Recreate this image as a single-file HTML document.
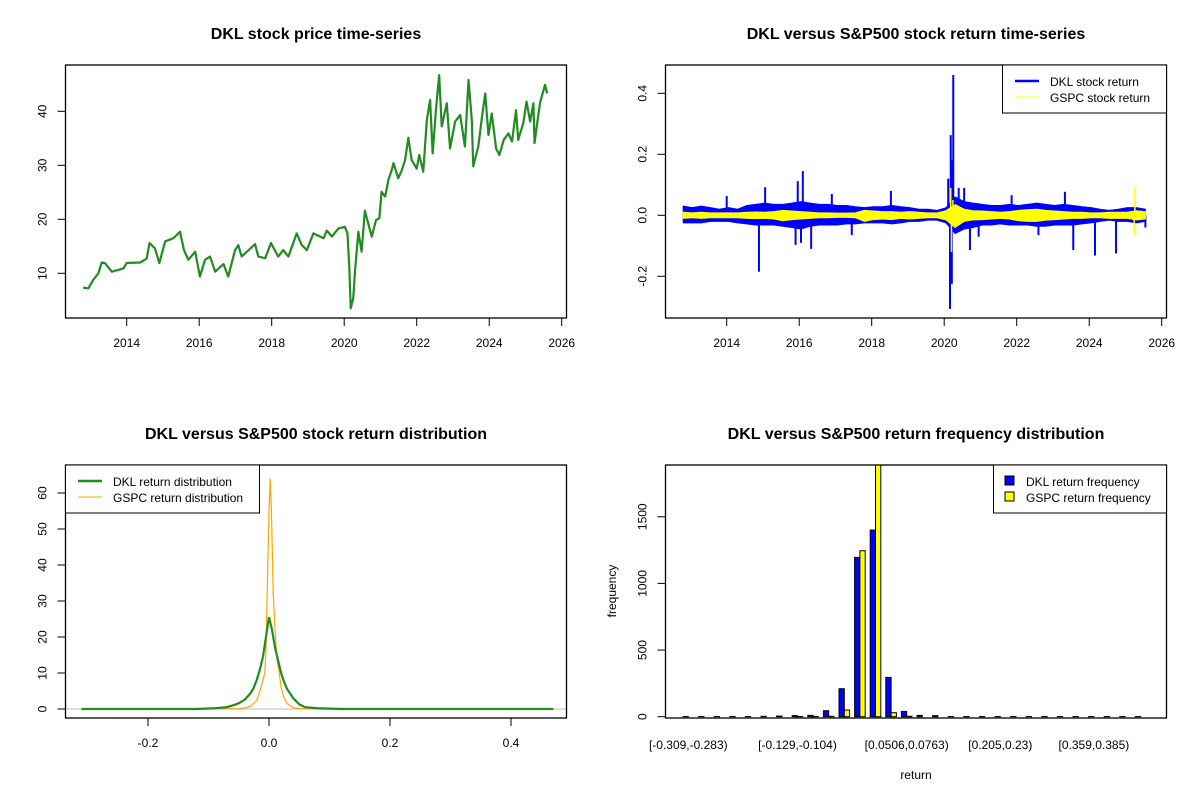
<!DOCTYPE html>
<html><head><meta charset="utf-8"><style>
html,body{margin:0;padding:0;background:#fff;}
svg{display:block;font-family:"Liberation Sans",Arial,sans-serif;}
</style></head><body>
<svg id="c" width="1200" height="800" viewBox="0 0 1200 800"></svg>
<script>
// ---- Panel 1 data: DKL price (year, price)
const priceYears=[2012.80,2012.94,2013.08,2013.22,2013.31,2013.40,2013.59,2013.91,2014.0,2014.37,2014.55,2014.63,2014.78,2014.90,2015.06,2015.29,2015.47,2015.58,2015.70,2015.89,2016.02,2016.16,2016.30,2016.44,2016.67,2016.80,2016.99,2017.08,2017.17,2017.54,2017.63,2017.82,2017.98,2018.18,2018.32,2018.46,2018.69,2018.83,2018.97,2019.15,2019.43,2019.52,2019.66,2019.84,2020.02,2020.09,2020.14,2020.18,2020.25,2020.30,2020.39,2020.48,2020.57,2020.66,2020.76,2020.88,2020.97,2021.03,2021.13,2021.22,2021.31,2021.36,2021.49,2021.59,2021.68,2021.77,2021.86,2022.0,2022.07,2022.18,2022.28,2022.37,2022.44,2022.53,2022.62,2022.69,2022.83,2022.92,2023.06,2023.20,2023.33,2023.43,2023.52,2023.56,2023.70,2023.79,2023.89,2023.98,2024.07,2024.19,2024.28,2024.40,2024.53,2024.63,2024.74,2024.80,2024.94,2025.03,2025.13,2025.22,2025.25,2025.40,2025.54,2025.60];
const priceValues=[7.35,7.2,8.8,10.0,12.0,11.9,10.3,10.9,11.9,12.0,12.7,15.6,14.6,11.9,15.9,16.5,17.7,14.3,12.5,14.0,9.4,12.5,13.1,10.3,11.7,9.4,14.3,15.2,13.1,15.4,13.1,12.8,15.6,13.1,14.3,13.1,17.4,15.2,14.3,17.4,16.5,17.9,16.8,18.3,18.6,17.4,11.2,3.5,5.4,10.6,17.7,14.0,21.6,19.3,16.8,19.9,20.2,25.1,24.2,27.3,29.1,30.4,27.6,29.1,31.0,35.1,31.0,29.4,31.9,28.8,38.4,42.1,32.2,40.2,46.7,37.2,41.5,33.1,38.1,39.3,33.5,45.8,38.4,29.8,33.5,38.4,43.3,35.6,39.6,33.1,31.9,34.7,35.9,34.4,40.2,34.7,37.8,41.8,38.1,41.5,34.1,41.5,44.9,43.3];
const yearTicks=[2014,2016,2018,2020,2022,2024,2026];
const priceTicks=[10,20,30,40];
// ---- Panel 2 data: returns (band sampled each 0.25y from 2012.8, plus spikes)
const bandStart=2012.8, bandStep=0.25;
const dklHi=[.03,.025,.03,.025,.02,.025,.02,.032,.036,.04,.036,.036,.04,.045,.04,.036,.036,.032,.032,.028,.025,.028,.028,.032,.028,.025,.02,.02,.016,.025,.06,.045,.04,.036,.032,.032,.036,.032,.036,.04,.036,.032,.036,.032,.028,.025,.02,.016,.02,.025,.025,.02];
const dklLo=[-.025,-.025,-.025,-.02,-.02,-.02,-.025,-.028,-.032,-.032,-.032,-.036,-.04,-.045,-.036,-.032,-.032,-.032,-.028,-.028,-.025,-.025,-.025,-.028,-.025,-.02,-.02,-.016,-.016,-.025,-.06,-.045,-.04,-.032,-.032,-.028,-.032,-.032,-.032,-.036,-.036,-.032,-.032,-.032,-.028,-.025,-.02,-.016,-.02,-.02,-.025,-.02];
const gspcHi=[.01,.008,.01,.008,.008,.008,.008,.01,.011,.01,.012,.016,.014,.012,.01,.008,.008,.007,.007,.008,.016,.014,.012,.012,.01,.012,.01,.008,.008,.015,.035,.02,.015,.014,.012,.01,.012,.016,.018,.02,.016,.014,.012,.01,.01,.008,.008,.01,.01,.01,.015,.012];
const gspcLo=[-.01,-.008,-.01,-.008,-.008,-.008,-.008,-.01,-.011,-.01,-.012,-.018,-.014,-.012,-.01,-.008,-.008,-.007,-.007,-.008,-.02,-.014,-.012,-.014,-.01,-.012,-.01,-.008,-.008,-.015,-.04,-.02,-.015,-.014,-.012,-.01,-.012,-.018,-.02,-.02,-.016,-.014,-.012,-.01,-.01,-.008,-.008,-.01,-.01,-.01,-.015,-.012];
const dklSpikeT=[2014.0,2014.89,2015.06,2015.90,2015.96,2016.10,2016.05,2016.33,2016.90,2017.45,2018.53,2020.11,2020.18,2020.16,2020.25,2020.21,2020.23,2020.40,2020.71,2020.55,2020.95,2021.86,2022.60,2023.33,2023.56,2024.16,2024.74,2025.55];
const dklSpikeV=[0.063,-0.185,0.092,-0.097,0.112,0.145,-0.09,-0.11,0.07,-0.065,0.08,0.12,0.263,-0.307,0.46,-0.225,0.18,0.09,-0.114,0.09,-0.07,0.066,-0.065,0.077,-0.114,-0.132,-0.125,-0.04];
const gspcSpikeT=[2020.18,2020.20,2020.24,2025.26,2025.24];
const gspcSpikeV=[0.09,-0.12,0.05,0.094,-0.065];
const returnTicks=[-0.2,0.0,0.2,0.4];
// ---- Panel 3 data: densities
const dklDensX=[-0.31,-0.12,-0.09,-0.07,-0.06,-0.05,-0.04,-0.03,-0.025,-0.02,-0.015,-0.01,-0.005,0,0.005,0.01,0.015,0.02,0.025,0.03,0.035,0.04,0.05,0.06,0.08,0.1,0.12,0.47];
const dklDensY=[0,0,0.2,0.5,1.0,1.6,2.6,4.5,6.0,8.2,11.0,14.5,20,25.5,22,17,13.5,10,7.5,5.5,4.3,3.0,1.3,0.5,0.2,0.1,0,0];
const gspcDensX=[-0.13,-0.05,-0.04,-0.03,-0.02,-0.015,-0.01,-0.007,-0.005,-0.003,0,0.002,0.004,0.007,0.01,0.013,0.017,0.02,0.025,0.03,0.04,0.05,0.09];
const gspcDensY=[0,0.1,0.3,0.8,2.5,5,8,10,16,32,55,64,55,32,22,14,10,6,3,1.5,0.4,0.1,0];
const densXTicks=[-0.2,0.0,0.2,0.4];
const densYTicks=[0,10,20,30,40,50,60];
// ---- Panel 4 data: histogram counts (30 bins)
const dklFreq=[1,1,1,1,1,3,5,8,10,45,210,1195,1400,295,40,10,8,1,1,1,1,1,1,1,1,1,1,1,1,1];
const gspcFreq=[0,0,0,0,0,0,0,1,1,3,50,1245,2100,30,3,0,0,0,0,0,0,0,0,0,0,0,0,0,0,0];
const binLabels=["[-0.309,-0.283)","[-0.129,-0.104)","[0.0506,0.0763)","[0.205,0.23)","[0.359,0.385)"];
const binLabelIdx=[0,7,14,20,26];
const freqTicks=[0,500,1000,1500];

const svg=document.getElementById('c');
const NS='http://www.w3.org/2000/svg';
function mk(tag,attrs,parent,text){const e=document.createElementNS(NS,tag);for(const k in attrs)e.setAttribute(k,attrs[k]);if(text!==undefined)e.textContent=text;(parent||svg).appendChild(e);return e;}

function panel(name,L,T,R,B,title){
  const g=mk('g',{});
  
  
  const t=mk('text',{x:(L+R)/2,y:T-26,'text-anchor':'middle','font-size':'16','font-weight':'bold',fill:'#000'},g,title);
  
  
  return g;
}
function box(g,name,L,T,R,B){const r=mk('rect',{x:L,y:T,width:R-L,height:B-T,fill:'none',stroke:'#000','stroke-width':1.3},g);
  
  }
function xTicks(g,name,ticks,fx,B,fmt){const a=mk('g',{},g);
  
  
  ticks.forEach(v=>{const x=fx(v);mk('line',{x1:x,x2:x,y1:B,y2:B+8,stroke:'#000','stroke-width':1},a);
    mk('text',{x:x,y:B+29,'text-anchor':'middle','font-size':'12'},a,fmt(v));});
  return a;}
function yTicks(g,name,ticks,fy,L,fmt){const a=mk('g',{},g);
  
  
  ticks.forEach(v=>{const y=fy(v);mk('line',{x1:L-8,x2:L,y1:y,y2:y,stroke:'#000','stroke-width':1},a);
    mk('text',{x:L-19,y:y,'text-anchor':'middle','font-size':'12',transform:`rotate(-90 ${L-19} ${y})`},a,fmt(v));});
  return a;}

// ===== Panel 1
(function(){
  const L=65.5,T=65,R=566.5,B=318;
  const g=panel('price-panel',L,T,R,B,'DKL stock price time-series');
  const fx=t=>126.7+(t-2014)*36.25, fy=v=>273.3-(v-10)*5.4;
  const p=mk('polyline',{points:priceYears.map((t,i)=>fx(t)+','+fy(priceValues[i])).join(' '),fill:'none',stroke:'#228B22','stroke-width':2.2,'stroke-linejoin':'round'},g);
  
  
  box(g,'price-plot-frame',L,T,R,B);
  xTicks(g,'price-x-axis',yearTicks,fx,B,v=>String(v));
  yTicks(g,'price-y-axis',priceTicks,fy,L,v=>String(v));
})();

// ===== Panel 2
(function(){
  const L=665.5,T=65,R=1166.5,B=318;
  const g=panel('returns-panel',L,T,R,B,'DKL versus S&P500 stock return time-series');
  const fx=t=>726.7+(t-2014)*36.25, fy=v=>215.3-v*305;
  const bt=i=>bandStart+i*bandStep;
  function band(hi,lo,col,name){
    const pts=hi.map((v,i)=>fx(bt(i))+','+fy(v)).concat(lo.map((v,i)=>[i,v]).reverse().map(([i,v])=>fx(bt(i))+','+fy(v)));
    const b=mk('polygon',{points:pts.join(' '),fill:col,stroke:col,'stroke-width':1,'stroke-linejoin':'round'},g);
    
    
  }
  function spikes(T_,V,col,w,name){const sg=mk('g',{},g);
    
    
    T_.forEach((t,i)=>mk('line',{x1:fx(t),x2:fx(t),y1:fy(0),y2:fy(V[i]),stroke:col,'stroke-width':w},sg));}
  band(dklHi,dklLo,'#0000FF','dkl-return-band');
  spikes(dklSpikeT,dklSpikeV,'#0000FF',2,'dkl-return-spikes');
  band(gspcHi,gspcLo,'#FFFF00','gspc-return-band');
  spikes(gspcSpikeT,gspcSpikeV,'#FFFF00',1.5,'gspc-return-spikes');
  box(g,'returns-plot-frame',L,T,R,B);
  xTicks(g,'returns-x-axis',yearTicks,fx,B,v=>String(v));
  yTicks(g,'returns-y-axis',returnTicks,fy,L,v=>v.toFixed(1));
  const lg=mk('g',{},g);
  
  
  mk('rect',{x:1002.5,y:65,width:164,height:48,fill:'#fff',stroke:'#000','stroke-width':1},lg);
  mk('line',{x1:1015,x2:1039,y1:81,y2:81,stroke:'#0000FF','stroke-width':2.5},lg);
  mk('text',{x:1050,y:86,'font-size':'12'},lg,'DKL stock return');
  mk('line',{x1:1015,x2:1039,y1:97,y2:97,stroke:'#FFFF00','stroke-width':1},lg);
  mk('text',{x:1050,y:102,'font-size':'12'},lg,'GSPC stock return');
})();

// ===== Panel 3
(function(){
  const L=65.5,T=465,R=566.5,B=718;
  const g=panel('density-panel',L,T,R,B,'DKL versus S&P500 stock return distribution');
  const fx=x=>269+x*605, fy=v=>709-v*3.6;
  const z=mk('line',{x1:L,x2:R,y1:fy(0),y2:fy(0),stroke:'#BEBEBE','stroke-width':1},g);
  
  
  const gl=mk('polyline',{points:gspcDensX.map((x,i)=>fx(x)+','+fy(gspcDensY[i])).join(' '),fill:'none',stroke:'#FFA500','stroke-width':1.2},g);
  
  
  const dl=mk('polyline',{points:dklDensX.map((x,i)=>fx(x)+','+fy(dklDensY[i])).join(' '),fill:'none',stroke:'#228B22','stroke-width':2.2},g);
  
  
  box(g,'density-plot-frame',L,T,R,B);
  xTicks(g,'density-x-axis',densXTicks,fx,B,v=>v.toFixed(1));
  yTicks(g,'density-y-axis',densYTicks,fy,L,v=>String(v));
  const lg=mk('g',{},g);
  
  
  mk('rect',{x:65.5,y:465,width:194,height:48,fill:'#fff',stroke:'#000','stroke-width':1},lg);
  mk('line',{x1:78,x2:102,y1:481,y2:481,stroke:'#228B22','stroke-width':2.5},lg);
  mk('text',{x:113,y:486,'font-size':'12'},lg,'DKL return distribution');
  mk('line',{x1:78,x2:102,y1:497,y2:497,stroke:'#FFA500','stroke-width':1},lg);
  mk('text',{x:113,y:502,'font-size':'12'},lg,'GSPC return distribution');
})();

// ===== Panel 4
(function(){
  const L=665.5,T=465,R=1166.5,B=718;
  const g=panel('histogram-panel',L,T,R,B,'DKL versus S&P500 return frequency distribution');
  const fy=v=>716.7-v*0.1333;
  const gx=i=>683+i*15.6, bw=5.3;
  const clip=mk('clipPath',{id:'hclip'},g);mk('rect',{x:L,y:T,width:R-L,height:B-T},clip);
  const bars=mk('g',{'clip-path':'url(#hclip)'},g);
  
  
  dklFreq.forEach((v,i)=>{const y=fy(v);const r=mk('rect',{x:gx(i),y:y,width:bw,height:Math.max(0,fy(0)-y),fill:'#0000FF',stroke:'#000','stroke-width':1},bars);
    
    });
  gspcFreq.forEach((v,i)=>{const y=fy(v);const r=mk('rect',{x:gx(i)+bw,y:y,width:bw,height:Math.max(0,fy(0)-y),fill:'#FFFF00',stroke:'#000','stroke-width':1},bars);
    
    });
  box(g,'histogram-plot-frame',L,T,R,B);
  yTicks(g,'histogram-y-axis',freqTicks,fy,L,v=>String(v));
  const xl=mk('g',{},g);
  
  
  binLabelIdx.forEach((idx,k)=>mk('text',{x:gx(idx)+bw,y:749,'text-anchor':'middle','font-size':'12'},xl,binLabels[k]));
  const xt=mk('text',{x:916,y:779,'text-anchor':'middle','font-size':'12'},g,'return');
  
  
  const yt=mk('text',{x:616,y:591,'text-anchor':'middle','font-size':'12',transform:'rotate(-90 616 591)'},g,'frequency');
  
  
  const lg=mk('g',{},g);
  
  
  mk('rect',{x:993.5,y:465,width:173,height:48,fill:'#fff',stroke:'#000','stroke-width':1},lg);
  mk('rect',{x:1005,y:476,width:9,height:9,fill:'#0000FF',stroke:'#000','stroke-width':1},lg);
  mk('text',{x:1026,y:486,'font-size':'12'},lg,'DKL return frequency');
  mk('rect',{x:1005,y:492,width:9,height:9,fill:'#FFFF00',stroke:'#000','stroke-width':1},lg);
  mk('text',{x:1026,y:502,'font-size':'12'},lg,'GSPC return frequency');
})();
</script>
</body></html>
